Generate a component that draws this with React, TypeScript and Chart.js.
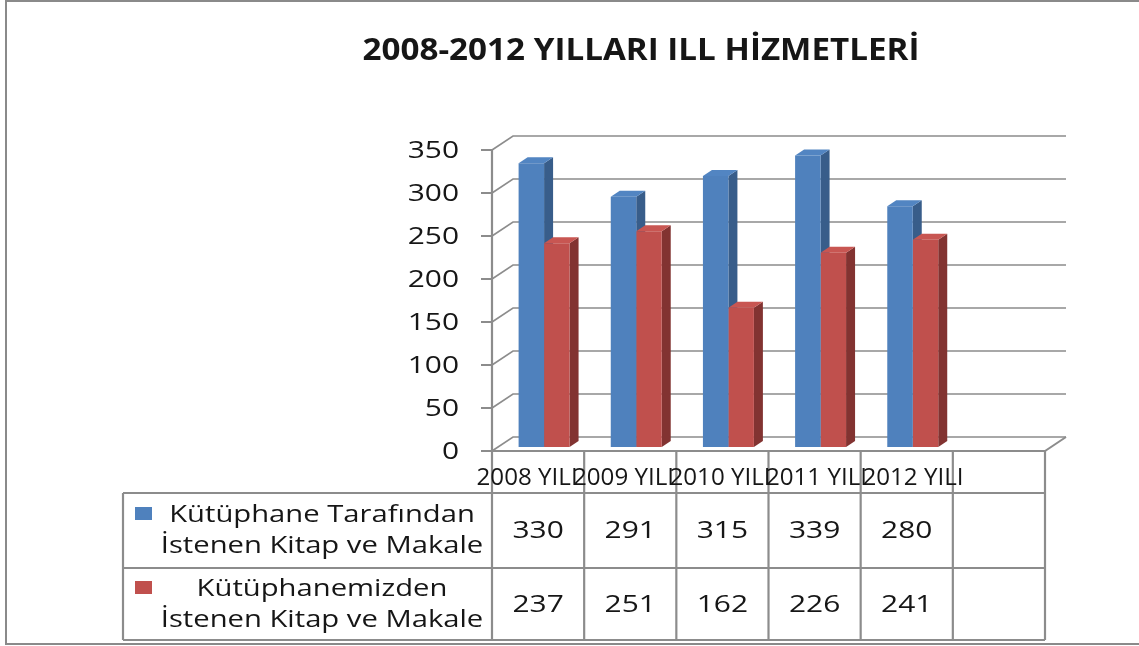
import React, { useEffect, useRef } from "react";
import { Chart, registerables } from "chart.js";

Chart.register(...registerables);

const TITLE = "2008-2012 YILLARI ILL HİZMETLERİ";
const categories = ["2008 YILI", "2009 YILI", "2010 YILI", "2011 YILI", "2012 YILI"];
const seriesLabels = [
  ["Kütüphane Tarafından", "İstenen Kitap ve Makale"],
  ["Kütüphanemizden", "İstenen Kitap ve Makale"],
];
const requestedByLibrary = [330, 291, 315, 339, 280];
const requestedFromLibrary = [237, 251, 162, 226, 241];
const yTickValues = [0, 50, 100, 150, 200, 250, 300, 350];

const W = 1139;
const H = 646;
const BLUE = "#4F81BD";
const BLUE_SIDE = "#385D8A";
const BLUE_TOP = "#5285C2";
const RED = "#C0504D";
const RED_SIDE = "#823331";
const RED_TOP = "#C85652";
const GRID = "#8c8c8c";
const TEXT = "#161616";
const FONT = "'Open Sans', 'DejaVu Sans', sans-serif";
const SX_NUM = 1.3;
const SX_LEG = 1.27;
const SX_CAT = 1.05;

const WALL_DX = 21;
const WALL_DY = -14;
const BAR_OFF_X = 6;
const BAR_OFF_Y = -4;
const BAR_DX = 9;
const BAR_DY = -6;

function stretchText(
  ctx: CanvasRenderingContext2D,
  text: string,
  x: number,
  y: number,
  font: string,
  sx: number,
  align: "left" | "center" | "right"
) {
  ctx.save();
  ctx.font = font;
  ctx.fillStyle = TEXT;
  ctx.textBaseline = "middle";
  ctx.textAlign = align;
  ctx.translate(x, y);
  ctx.scale(sx, 1);
  ctx.fillText(text, 0, 0);
  ctx.restore();
}

function line(ctx: CanvasRenderingContext2D, pts: number[][], color: string, w: number) {
  ctx.save();
  ctx.strokeStyle = color;
  ctx.lineWidth = w;
  ctx.beginPath();
  ctx.moveTo(pts[0][0], pts[0][1]);
  for (let i = 1; i < pts.length; i++) ctx.lineTo(pts[i][0], pts[i][1]);
  ctx.stroke();
  ctx.restore();
}

function poly(ctx: CanvasRenderingContext2D, pts: number[][], color: string) {
  ctx.fillStyle = color;
  ctx.beginPath();
  ctx.moveTo(pts[0][0], pts[0][1]);
  for (let i = 1; i < pts.length; i++) ctx.lineTo(pts[i][0], pts[i][1]);
  ctx.closePath();
  ctx.fill();
}

const excel3d = {
  id: "excel3d",
  beforeDraw(chart: any) {
    const ctx: CanvasRenderingContext2D = chart.ctx;
    ctx.save();
    ctx.fillStyle = "#ffffff";
    ctx.fillRect(0, 0, W, H);
    ctx.strokeStyle = "#8a8a8a";
    ctx.lineWidth = 2;
    ctx.strokeRect(6, 1, W + 10, 643);
    ctx.restore();
    const tf = "bold 30px " + FONT;
    ctx.save();
    ctx.font = tf;
    const tw = ctx.measureText(TITLE).width;
    ctx.restore();
    stretchText(ctx, TITLE, 641, 51, tf, 557 / tw, "center");
  },
  beforeDatasetsDraw(chart: any) {
    const ctx: CanvasRenderingContext2D = chart.ctx;
    const ys = chart.scales.y;
    const left = chart.chartArea.left;
    const right = chart.chartArea.right;
    const bottom = ys.getPixelForValue(0);
    yTickValues.forEach((v) => {
      const y = ys.getPixelForValue(v);
      line(
        ctx,
        [
          [left, y],
          [left + WALL_DX, y + WALL_DY],
          [right + WALL_DX, y + WALL_DY],
        ],
        GRID,
        1.6
      );
    });
    line(
      ctx,
      [
        [left, bottom],
        [right, bottom],
        [right + WALL_DX, bottom + WALL_DY],
      ],
      GRID,
      2
    );
    const sideCols = [BLUE_SIDE, RED_SIDE];
    const topCols = [BLUE_TOP, RED_TOP];
    const n = chart.data.labels.length;
    for (let i = 0; i < n; i++) {
      chart.data.datasets.forEach((_d: any, di: number) => {
        const meta = chart.getDatasetMeta(di);
        const el = meta.data[i];
        if (!el) return;
        const p = el.getProps(["x", "y", "base", "width"], true);
        if (p.y === undefined || isNaN(p.y)) return;
        const l = p.x - p.width / 2 + BAR_OFF_X;
        const r = p.x + p.width / 2 + BAR_OFF_X;
        const t = p.y + BAR_OFF_Y;
        const b = p.base + BAR_OFF_Y;
        poly(
          ctx,
          [
            [r, t],
            [r + BAR_DX, t + BAR_DY],
            [r + BAR_DX, b + BAR_DY],
            [r, b],
          ],
          sideCols[di]
        );
        poly(
          ctx,
          [
            [l, t],
            [r, t],
            [r + BAR_DX, t + BAR_DY],
            [l + BAR_DX, t + BAR_DY],
          ],
          topCols[di]
        );
      });
    }
    ctx.save();
    ctx.translate(BAR_OFF_X, BAR_OFF_Y);
  },
  afterDatasetsDraw(chart: any) {
    const ctx: CanvasRenderingContext2D = chart.ctx;
    ctx.restore();
    const xs = chart.scales.x;
    const ys = chart.scales.y;
    const left = chart.chartArea.left;
    const right = chart.chartArea.right;
    const bottom = ys.getPixelForValue(0);
    const top = ys.getPixelForValue(350);
    const tableTop = 493;
    const rowMid = 568;
    const tableBottom = 640;
    const tableLeft = 123;

    line(ctx, [[left, top], [left, tableBottom]], GRID, 2.2);
    yTickValues.forEach((v) => {
      const y = ys.getPixelForValue(v);
      line(ctx, [[left - 11, y], [left, y]], GRID, 2);
      stretchText(ctx, String(v), 459, y + 1, "23px " + FONT, SX_NUM, "right");
    });

    const nCols = chart.data.labels.length;
    const colW = (right - left) / nCols;
    for (let i = 1; i <= nCols; i++) {
      const x = left + i * colW;
      line(ctx, [[x, bottom], [x, tableBottom]], GRID, 2.2);
    }
    line(ctx, [[left, bottom], [right, bottom]], GRID, 2.2);
    [tableTop, rowMid, tableBottom].forEach((y) => {
      line(ctx, [[tableLeft, y], [right, y]], GRID, 2.2);
    });
    line(ctx, [[tableLeft, tableTop], [tableLeft, tableBottom]], GRID, 2.2);

    categories.forEach((c, i) => {
      const cx = xs.getPixelForValue(i);
      stretchText(ctx, c, cx - 11 + i * 4.3, 478, "23px " + FONT, SX_CAT, "center");
    });

    const rows = [requestedByLibrary, requestedFromLibrary];
    const rowCenters = [(tableTop + rowMid) / 2, (rowMid + tableBottom) / 2];
    rows.forEach((vals, ri) => {
      vals.forEach((v, i) => {
        const cx = xs.getPixelForValue(i);
        stretchText(ctx, String(v), cx, rowCenters[ri] + 1, "23px " + FONT, SX_NUM, "center");
      });
    });

    const keyCols = [BLUE, RED];
    const keyY = [507, 581];
    const legendCenter = 322;
    seriesLabels.forEach((lines, ri) => {
      ctx.fillStyle = keyCols[ri];
      ctx.fillRect(135, keyY[ri], 17, 13);
      const yc = rowCenters[ri];
      stretchText(ctx, lines[0], legendCenter, yc - 15, "23px " + FONT, SX_LEG, "center");
      stretchText(ctx, lines[1], legendCenter, yc + 16, "23px " + FONT, SX_LEG, "center");
    });
  },
};

export default function App() {
  const ref = useRef<HTMLCanvasElement | null>(null);
  useEffect(() => {
    if (!ref.current) return;
    const labels = [...categories, ""];
    const chart = new Chart(ref.current, {
      type: "bar",
      data: {
        labels,
        datasets: [
          {
            label: seriesLabels[0].join(" "),
            data: requestedByLibrary,
            backgroundColor: BLUE,
            borderWidth: 0,
            clip: false as any,
          },
          {
            label: seriesLabels[1].join(" "),
            data: requestedFromLibrary,
            backgroundColor: RED,
            borderWidth: 0,
            clip: false as any,
          },
        ],
      },
      options: {
        responsive: false,
        animation: false,
        devicePixelRatio: 1,
        layout: { padding: { left: 492, right: 94, top: 150, bottom: 195 } },
        plugins: { legend: { display: false }, tooltip: { enabled: false }, title: { display: false } },
        scales: {
          x: { display: false },
          y: { display: false, min: 0, max: 350, ticks: { stepSize: 50 } },
        },
        datasets: { bar: { categoryPercentage: 0.553, barPercentage: 1 } },
      } as any,
      plugins: [excel3d],
    });
    return () => chart.destroy();
  }, []);
  return (
    <div style={{ position: "fixed", left: 0, top: 0, width: W, height: H, background: "#fff" }}>
      <canvas ref={ref} width={W} height={H} style={{ width: W, height: H, display: "block" }} />
    </div>
  );
}
